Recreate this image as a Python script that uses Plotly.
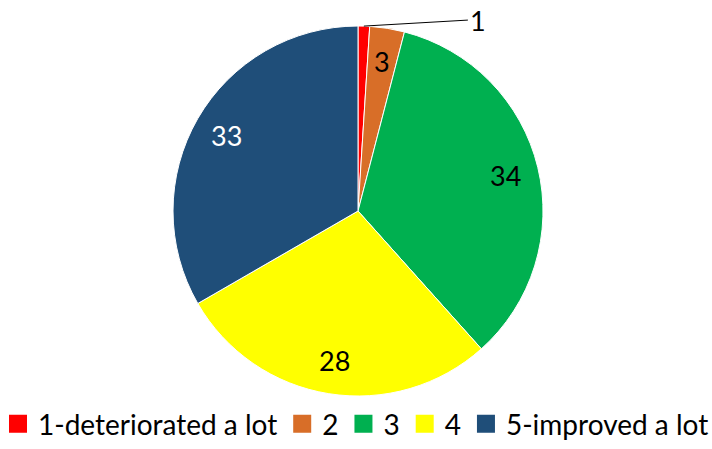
import math
import plotly.graph_objects as go

categories = ["1-deteriorated a lot", "2", "3", "4", "5-improved a lot"]
values = [1, 3, 34, 28, 33]
colors = ["#FF0000", "#D86E28", "#00B050", "#FFFF00", "#1F4E79"]
text_colors = ["#000000", "#000000", "#000000", "#000000", "#FFFFFF"]

W, H = 712, 449
cx, cy, R = 358, 211, 185  # pixel center / radius

dom_x = [(cx - R) / W, (cx + R) / W]
dom_y = [(H - cy - R) / H, (H - cy + R) / H]

FONT = "Lato"

fig = go.Figure()
fig.add_trace(go.Pie(
    labels=categories,
    values=values,
    sort=False,
    direction="clockwise",
    rotation=0,
    marker=dict(colors=colors, line=dict(color="white", width=1)),
    textinfo="none",
    hoverinfo="label+value",
    domain=dict(x=dom_x, y=dom_y),
    showlegend=False,
))

# legend entries (square swatches)
for name, col in zip(categories, colors):
    fig.add_trace(go.Scatter(
        x=[None], y=[None], mode="markers", name=name,
        marker=dict(symbol="square", size=17, color=col,
                    line=dict(color=col, width=2)),
        showlegend=True, hoverinfo="skip",
    ))

total = sum(values)
cum = 0
annotations = []
for i, v in enumerate(values):
    mid = (cum + v / 2) / total * 2 * math.pi
    cum += v
    if i == 0:
        px = cx + math.sin(mid) * R
        py = cy - math.cos(mid) * R
        annotations.append(dict(
            x=px / W, y=(H - py) / H, xref="paper", yref="paper",
            text=str(v), showarrow=True, arrowhead=0, arrowwidth=1,
            arrowcolor="black", ax=104, ay=-6, standoff=0,
            font=dict(family=FONT, size=27, color="black"),
            xanchor="left", yanchor="middle",
        ))
    else:
        r = 0.82 * R
        px = cx + math.sin(mid) * r
        py = cy - math.cos(mid) * r
        annotations.append(dict(
            x=px / W, y=(H - py) / H, xref="paper", yref="paper",
            text=str(v), showarrow=False,
            xanchor="center", yanchor="middle",
            font=dict(family=FONT, size=27, color=text_colors[i]),
        ))

fig.update_layout(
    width=W, height=H,
    margin=dict(l=0, r=0, t=0, b=0),
    paper_bgcolor="white",
    plot_bgcolor="white",
    annotations=annotations,
    showlegend=True,
    xaxis=dict(visible=False),
    yaxis=dict(visible=False),
    legend=dict(
        orientation="h", x=0.5, xanchor="center", y=0.0, yanchor="bottom",
        font=dict(family=FONT, size=28, color="black"),
        itemsizing="trace", traceorder="normal",
        itemwidth=30, bgcolor="rgba(0,0,0,0)",
    ),
)

fig.write_html("out.html", config={"displayModeBar": False},
               post_script="document.body.style.margin='0';")
